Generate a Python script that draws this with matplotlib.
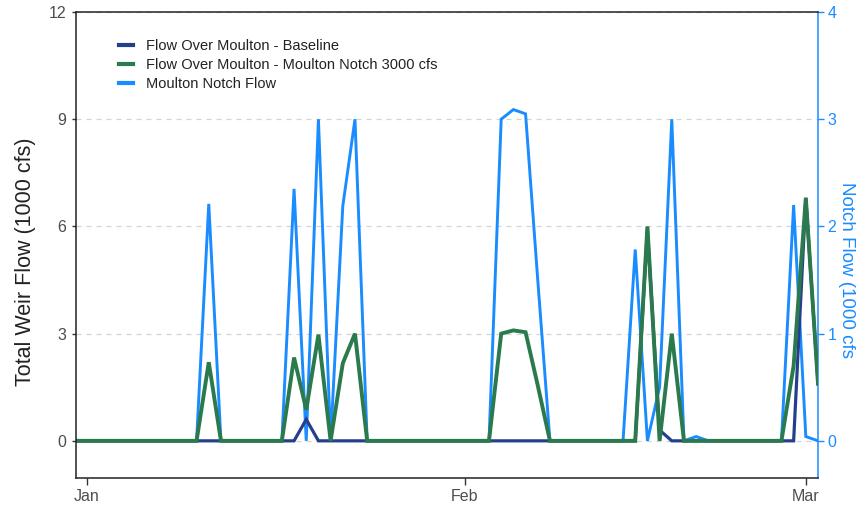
import numpy as np
import pandas as pd
import matplotlib
matplotlib.use("Agg")
import matplotlib.pyplot as plt
import matplotlib.dates as mdates

plt.rcParams['font.family'] = ['Liberation Sans', 'DejaVu Sans']

# Daily flows, 31 Dec through 2 Mar (1000 cfs)
dates = pd.date_range("2020-12-31", "2021-03-02", freq="D")

baseline_dec = [0]
baseline_jan = [0, 0, 0, 0, 0, 0, 0, 0, 0, 0,
                0, 0, 0, 0, 0, 0, 0, 0, 0.6, 0,
                0, 0, 0, 0, 0, 0, 0, 0, 0, 0,
                0]
baseline_feb = [0, 0, 0, 0, 0, 0, 0, 0, 0, 0,
                0, 0, 0, 0, 0, 5.9, 0.3, 0, 0, 0,
                0, 0, 0, 0, 0, 0, 0, 0]
baseline_mar = [6.8, 1.6]

notch3000_dec = [0]
notch3000_jan = [0, 0, 0, 0, 0, 0, 0, 0, 0, 0,
                 2.2, 0, 0, 0, 0, 0, 0, 2.33, 0.87, 2.97,
                 0, 2.17, 3.0, 0, 0, 0, 0, 0, 0, 0,
                 0]
notch3000_feb = [0, 0, 0, 3.0, 3.09, 3.04, 1.55, 0, 0, 0,
                 0, 0, 0, 0, 0, 6.0, 0, 3.0, 0, 0,
                 0, 0, 0, 0, 0, 0, 0, 2.1]
notch3000_mar = [6.8, 1.6]

notch_flow_dec = [0]
notch_flow_jan = [0, 0, 0, 0, 0, 0, 0, 0, 0, 0,
                  2.21, 0, 0, 0, 0, 0, 0, 2.35, 0, 3.0,
                  0, 2.19, 3.0, 0, 0, 0, 0, 0, 0, 0,
                  0]
notch_flow_feb = [0, 0, 0, 3.0, 3.09, 3.05, 1.5, 0, 0, 0,
                  0, 0, 0, 0, 1.785, 0, 0.5, 3.0, 0, 0.04,
                  0, 0, 0, 0, 0, 0, 0, 2.2]
notch_flow_mar = [0.04, 0]

baseline = np.array(baseline_dec + baseline_jan + baseline_feb + baseline_mar)
notch3000 = np.array(notch3000_dec + notch3000_jan + notch3000_feb + notch3000_mar)
notch_flow = np.array(notch_flow_dec + notch_flow_jan + notch_flow_feb + notch_flow_mar)

labels = ["Flow Over Moulton - Baseline",
          "Flow Over Moulton - Moulton Notch 3000 cfs",
          "Moulton Notch Flow"]

NAVY = "#243f8c"
GREEN = "#2a7a4e"
BLUE = "#1a8cff"
TICK_GRAY = "#4d4d4d"

fig = plt.figure(figsize=(8.59, 5.05), dpi=100)
ax = fig.add_axes([76 / 859, 1 - 478 / 505, 742 / 859, 466 / 505])
ax2 = ax.twinx()

# weir flows on top of the notch flow
ax.set_zorder(ax2.get_zorder() + 1)
ax.patch.set_visible(False)

l3, = ax2.plot(dates, notch_flow, color=BLUE, lw=2.1, solid_joinstyle='miter')
l1, = ax.plot(dates, baseline, color=NAVY, lw=2.3, solid_joinstyle='miter')
l2, = ax.plot(dates, notch3000, color=GREEN, lw=2.8, solid_joinstyle='miter')

ax.set_xlim(pd.Timestamp("2020-12-31 02:30"), pd.Timestamp("2021-03-02 00:00"))
ax.set_ylim(-1.04, 12)
ax2.set_ylim(-1.04 / 3, 4)
ax.set_yticks([0, 3, 6, 9, 12])
ax2.set_yticks([0, 1, 2, 3, 4])

ax.xaxis.set_major_locator(mdates.MonthLocator())
ax.xaxis.set_major_formatter(mdates.DateFormatter('%b'))

ax2.grid(axis='y', color='#d4d4d4', linestyle=(0, (4, 4)), lw=0.9)
ax2.set_axisbelow(True)

for s in ['left', 'bottom', 'top']:
    ax.spines[s].set_color('#222222')
    ax.spines[s].set_linewidth(1.1)
ax.spines['right'].set_visible(False)
for s in ['left', 'bottom', 'top']:
    ax2.spines[s].set_visible(False)
ax2.spines['right'].set_color(BLUE)
ax2.spines['right'].set_linewidth(1.1)

ax.tick_params(axis='y', length=3, width=1, color='#333333', labelcolor=TICK_GRAY,
               labelsize=11.5, pad=4)
ax.tick_params(axis='x', length=5, width=1, color='#333333', labelcolor=TICK_GRAY,
               labelsize=11.5, pad=3)
ax2.tick_params(axis='y', length=4, width=1, color=BLUE, labelcolor=BLUE,
                labelsize=11.5, pad=3)

fig.text(26 / 859, 1 - 262 / 505, "Total Weir Flow (1000 cfs)", rotation=90,
         ha='center', va='center', fontsize=15.5, color='#222222')
fig.text(846 / 859, 1 - 270 / 505, "Notch Flow (1000 cfs", rotation=270,
         ha='center', va='center', fontsize=13.5, color=BLUE)

leg = ax.legend([l1, l2, l3], labels, loc='upper left',
                bbox_to_anchor=(0.04, 0.971), frameon=False,
                fontsize=10.5, handlelength=0.95, handletextpad=0.9,
                labelspacing=0.35)
for h in leg.get_lines():
    h.set_linewidth(3)
for t in leg.get_texts():
    t.set_color('#222222')

fig.savefig("out.png", dpi=100)
